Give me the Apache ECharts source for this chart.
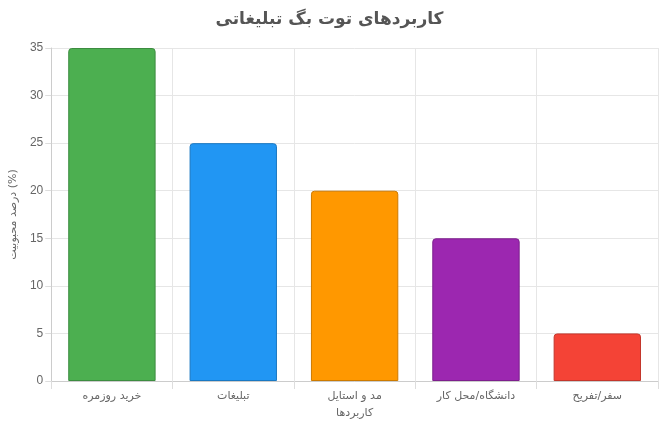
<!DOCTYPE html>
<html><head><meta charset="utf-8">
<script src="https://cdn.jsdelivr.net/npm/echarts@6/dist/echarts.min.js"></script>
<style>html,body{margin:0;padding:0;background:#fff}#c{width:659px;height:433px}</style>
</head><body><div id="c"></div>
<script>
const categories = ['خرید روزمره','تبلیغات','مد و استایل','دانشگاه/محل کار','سفر/تفریح'];
const values = [35,25,20,15,5];
const colors = ['#4CAF50','#2196F3','#FF9800','#9C27B0','#F44336'];
const borders = ['#3d8c40','#1a78c2','#cc7a00','#7d1f8d','#c3362b'];
const chart = echarts.init(document.getElementById('c'));
chart.setOption({
  animation:false,
  title:{text:'کاربردهای توت بگ تبلیغاتی',left:'center',top:6,textStyle:{fontSize:17,fontWeight:'bold',color:'#555',fontFamily:'DejaVu Sans'}},
  grid:{left:48,right:1,top:48,bottom:52},
  xAxis:{type:'category',data:categories,name:'کاربردها',nameLocation:'middle',nameGap:27,
    nameTextStyle:{color:'#666',fontSize:11,fontFamily:'DejaVu Sans'},
    axisLine:{lineStyle:{color:'#ccc'}},axisTick:{show:true,length:8,lineStyle:{color:'#ddd'}},
    splitLine:{show:true,lineStyle:{color:'#e6e6e6'}},
    axisLabel:{color:'#666',fontSize:11,fontFamily:'DejaVu Sans',margin:10}},
  yAxis:{type:'value',min:0,max:35,interval:5,name:'درصد محبوبیت (%)',nameLocation:'middle',nameGap:30,
    nameTextStyle:{color:'#666',fontSize:11,fontFamily:'DejaVu Sans'},
    axisLine:{show:true,lineStyle:{color:'#ccc'}},axisTick:{show:true,length:6,lineStyle:{color:'#ddd'}},
    splitLine:{lineStyle:{color:'#e6e6e6'}},
    axisLabel:{color:'#666',fontSize:12}},
  series:[{type:'bar',barWidth:'72%',
    data:values.map((v,i)=>({value:v,itemStyle:{color:colors[i],borderColor:borders[i],borderWidth:1,borderRadius:[3,3,0,0]}}))}]
});
</script></body></html>
